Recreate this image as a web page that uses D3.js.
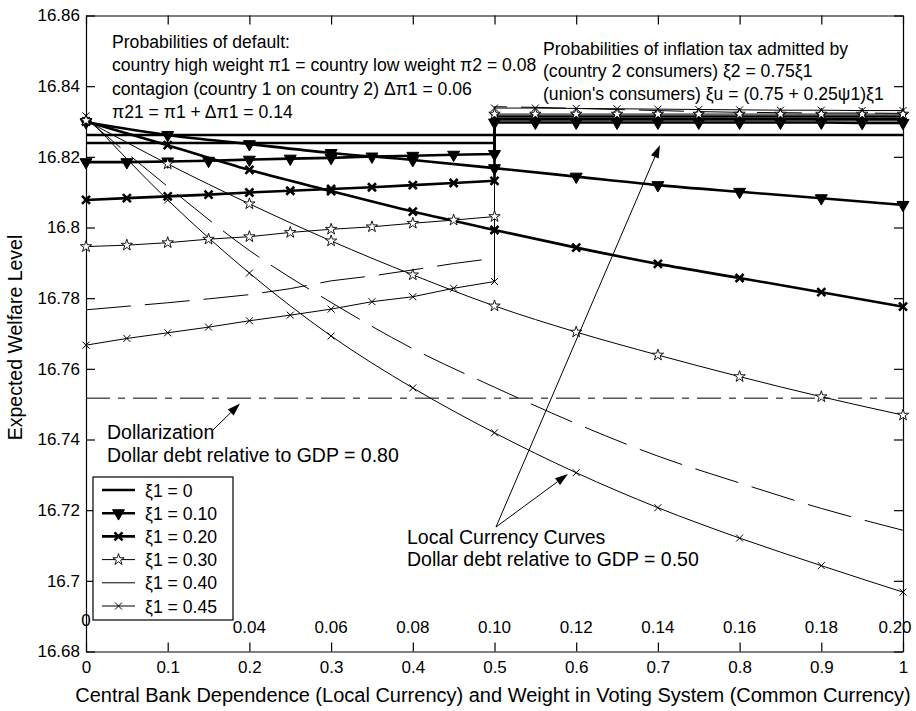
<!DOCTYPE html>
<html>
<head>
<meta charset="utf-8">
<script src="https://cdn.jsdelivr.net/npm/d3@7"></script>
<style>
  body { margin: 0; background: #fff; }
  svg { display: block; font-family: "Liberation Sans", Arial, sans-serif; }
  .axis text { font-size: 17px; fill: #000; }
  .axis path, .axis line { stroke: #000; stroke-width: 1.2; }
</style>
</head>
<body>
<svg id="chart" width="916" height="711"></svg>
<script>
// x grids
const xLocal = [0, 0.1, 0.2, 0.3, 0.4, 0.5, 0.6, 0.7, 0.8, 0.9, 1.0]
const xLeft = [0, 0.05, 0.1, 0.15, 0.2, 0.25, 0.3, 0.35, 0.4, 0.45, 0.5]
const xRight = [0.5, 0.55, 0.6, 0.65, 0.7, 0.75, 0.8, 0.85, 0.9, 0.95, 1.0]

const xiLabels = ["ξ1 = 0", "ξ1 = 0.10", "ξ1 = 0.20", "ξ1 = 0.30", "ξ1 = 0.40", "ξ1 = 0.45"]

// local currency curves (on xLocal)
const localXi0 = [16.8262, 16.8262, 16.8262, 16.8262, 16.8262, 16.8262, 16.8262, 16.8262, 16.8262, 16.8262, 16.8262]
const localXi10 = [16.8298, 16.8262, 16.8236, 16.8211, 16.8191, 16.8168, 16.8144, 16.8120, 16.8101, 16.8083, 16.8064]
const localXi20 = [16.8300, 16.8233, 16.8163, 16.8103, 16.8045, 16.7993, 16.7943, 16.7897, 16.7857, 16.7817, 16.7776]
const localXi30 = [16.8303, 16.8180, 16.8067, 16.7962, 16.7866, 16.7778, 16.7704, 16.7639, 16.7578, 16.7521, 16.7469]
const localXi40 = [16.8308, 16.8116, 16.7935, 16.7788, 16.7657, 16.7548, 16.7445, 16.7353, 16.7277, 16.7205, 16.7143]
const localXi45 = [16.8316, 16.8078, 16.7871, 16.7693, 16.7546, 16.7419, 16.7306, 16.7207, 16.7121, 16.7043, 16.6968]

// common currency curves, low weight part (on xLeft)
const leftXi0 = [16.8239, 16.8239, 16.8239, 16.8239, 16.8239, 16.8239, 16.8239, 16.8239, 16.8239, 16.8239, 16.8239]
const leftXi10 = [16.8185, 16.8185, 16.8187, 16.8189, 16.8192, 16.8195, 16.8197, 16.8201, 16.8203, 16.8206, 16.8208]
const leftXi20 = [16.8078, 16.8083, 16.8088, 16.8093, 16.8099, 16.8104, 16.8109, 16.8114, 16.8120, 16.8126, 16.8132]
const leftXi30 = [16.7946, 16.7950, 16.7957, 16.7967, 16.7974, 16.7986, 16.7995, 16.8002, 16.8012, 16.8021, 16.8031]
const leftXi40 = [16.7767, 16.7777, 16.7787, 16.7798, 16.7810, 16.7827, 16.7849, 16.7863, 16.7880, 16.7898, 16.7913]
const leftXi45 = [16.7667, 16.7686, 16.7702, 16.7718, 16.7736, 16.7752, 16.7769, 16.7790, 16.7804, 16.7828, 16.7847]

// common currency curves, high weight part (on xRight)
const rightXi0 = [16.8306, 16.8306, 16.8306, 16.8306, 16.8306, 16.8306, 16.8306, 16.8306, 16.8306, 16.8306, 16.8306]
const rightXi10 = [16.8297, 16.8297, 16.8297, 16.8297, 16.8297, 16.8297, 16.8297, 16.8297, 16.8297, 16.8296, 16.8296]
const rightXi20 = [16.8314, 16.8314, 16.8314, 16.8314, 16.8314, 16.8314, 16.8314, 16.8314, 16.8314, 16.8314, 16.8314]
const rightXi30 = [16.8321, 16.8321, 16.8321, 16.8321, 16.8321, 16.8321, 16.8321, 16.8321, 16.8321, 16.8321, 16.8321]
const rightXi40 = [16.8342, 16.8340, 16.8337, 16.8334, 16.8331, 16.8328, 16.8326, 16.8325, 16.8324, 16.8324, 16.8323]
const rightXi45 = [16.8338, 16.8338, 16.8337, 16.8336, 16.8335, 16.8334, 16.8333, 16.8332, 16.8332, 16.8331, 16.8331]

const dollarization = 16.7517

const yTicks = [16.68, 16.70, 16.72, 16.74, 16.76, 16.78, 16.80, 16.82, 16.84, 16.86]
const xTicks = [0, 0.1, 0.2, 0.3, 0.4, 0.5, 0.6, 0.7, 0.8, 0.9, 1]
// second labelling of the x axis (probability scale), at these x positions
const xSecondPos = [0, 0.2, 0.3, 0.4, 0.5, 0.6, 0.7, 0.8, 0.9, 1]
const xSecondLabels = ["0", "0.04", "0.06", "0.08", "0.10", "0.12", "0.14", "0.16", "0.18", "0.20"]

// styles per xi1
const styles = [
  { width: 2.6, marker: null, dash: null },
  { width: 2.6, marker: "tri", dash: null },
  { width: 2.6, marker: "xthick", dash: null },
  { width: 1, marker: "star", dash: null },
  { width: 1, marker: null, dash: "45,14" },
  { width: 1, marker: "x", dash: null }
]
const locals = [localXi0, localXi10, localXi20, localXi30, localXi40, localXi45]
const lefts = [leftXi0, leftXi10, leftXi20, leftXi30, leftXi40, leftXi45]
const rights = [rightXi0, rightXi10, rightXi20, rightXi30, rightXi40, rightXi45]

const series = xiLabels.map((label, i) => ({
  label, ...styles[i],
  local: xLocal.map((x, j) => [x, locals[i][j]]),
  common: xLeft.map((x, j) => [x, lefts[i][j]]).concat(xRight.map((x, j) => [x, rights[i][j]]))
}))

const svg = d3.select("#chart")
const plotL = 86, plotR = 903, plotT = 15.5, plotB = 651.5
const x = d3.scaleLinear().domain([0, 1]).range([plotL, plotR])
const y = d3.scaleLinear().domain([16.68, 16.86]).range([plotB, plotT])

const fmt = d => String(+d.toFixed(2))

// ## axes ##
svg.append("g").attr("class", "axis")
  .attr("transform", `translate(${plotL},0)`)
  .call(d3.axisLeft(y).tickValues(yTicks).tickFormat(fmt).tickSizeInner(-9).tickSizeOuter(0).tickPadding(6))
svg.append("g").attr("class", "axis")
  .attr("transform", `translate(${plotR},0)`)
  .call(d3.axisRight(y).tickValues(yTicks).tickFormat("").tickSizeInner(-9).tickSizeOuter(0))
svg.append("g").attr("class", "axis")
  .attr("transform", `translate(0,${plotB})`)
  .call(d3.axisBottom(x).tickValues(xTicks).tickFormat(fmt).tickSizeInner(-9).tickSizeOuter(0).tickPadding(9))
svg.append("g").attr("class", "axis")
  .attr("transform", `translate(0,${plotT})`)
  .call(d3.axisTop(x).tickValues(xTicks).tickFormat("").tickSizeInner(-9).tickSizeOuter(0))

// second x labelling inside the plot
svg.append("g").selectAll("text")
  .data(xSecondPos)
  .enter().append("text")
  .attr("x", (d, i) => i == xSecondPos.length - 1 ? x(d) - 8 : x(d))
  .attr("y", (d, i) => i == 0 ? 626 : 633)
  .attr("text-anchor", "middle")
  .style("font-size", "17px")
  .text((d, i) => xSecondLabels[i])

// axis titles
svg.append("text")
  .attr("x", 493).attr("y", 702)
  .attr("text-anchor", "middle")
  .style("font-size", "20px")
  .text("Central Bank Dependence (Local Currency) and Weight in Voting System (Common Currency)")
svg.append("text")
  .attr("transform", `translate(22,${(plotT + plotB) / 2 + 4}) rotate(-90)`)
  .attr("text-anchor", "middle")
  .style("font-size", "19.5px")
  .text("Expected Welfare Level")

// ## dollarization line ##
svg.append("line")
  .attr("x1", x(0)).attr("x2", x(1))
  .attr("y1", y(dollarization)).attr("y2", y(dollarization))
  .attr("stroke", "#000").attr("stroke-width", 1)
  .attr("stroke-dasharray", "24,8,7,8")

// ## curves ##
const plot = svg.append("g")
const localLine = d3.line().x(d => x(d[0])).y(d => y(d[1])).curve(d3.curveMonotoneX)
const commonLine = d3.line().x(d => x(d[0])).y(d => y(d[1]))

series.forEach(s => {
  plot.append("path")
    .attr("d", commonLine(s.common))
    .attr("fill", "none").attr("stroke", "#000")
    .attr("stroke-width", s.width)
    .attr("stroke-dasharray", s.dash)
  plot.append("path")
    .attr("d", localLine(s.local))
    .attr("fill", "none").attr("stroke", "#000")
    .attr("stroke-width", s.width)
    .attr("stroke-dasharray", s.dash)
})

const drawMarker = (g, type, cx, cy) => {
  if (type == "tri") {
    g.append("path")
      .attr("d", d3.symbol(d3.symbolTriangle, 62)())
      .attr("transform", `translate(${cx},${cy}) rotate(180)`)
      .attr("fill", "#000").attr("stroke", "#000").attr("stroke-width", 1)
  } else if (type == "star") {
    g.append("path")
      .attr("d", d3.symbol(d3.symbolStar, 40)())
      .attr("transform", `translate(${cx},${cy})`)
      .attr("fill", "#fff").attr("stroke", "#000").attr("stroke-width", 0.9)
  } else if (type == "xthick" || type == "x") {
    const r = type == "x" ? 3.5 : 4
    const w = type == "x" ? 1 : 2.6
    g.append("path")
      .attr("d", `M${cx - r},${cy - r}L${cx + r},${cy + r}M${cx - r},${cy + r}L${cx + r},${cy - r}`)
      .attr("stroke", "#000").attr("stroke-width", w)
  }
}

series.forEach(s => {
  if (!s.marker) return
  s.common.concat(s.local).forEach(d => drawMarker(plot, s.marker, x(d[0]), y(d[1])))
})

// ## annotations ##
const addLines = (x0, y0, step, size, lines) => {
  lines.forEach((t, i) => {
    svg.append("text")
      .attr("x", x0).attr("y", y0 + i * step)
      .style("font-size", size)
      .text(t)
  })
}
addLines(112, 48, 23.3, "17.6px", [
  "Probabilities of default:",
  "country high weight π1 = country low weight π2 = 0.08",
  "contagion (country 1 on country 2) Δπ1 = 0.06",
  "π21 = π1 + Δπ1 = 0.14"
])
addLines(543, 54.5, 22.5, "17.6px", [
  "Probabilities of inflation tax admitted by",
  "(country 2 consumers) ξ2 = 0.75ξ1",
  "(union's consumers) ξu = (0.75 + 0.25ψ1)ξ1"
])
addLines(107, 438.5, 23.3, "19.5px", [
  "Dollarization",
  "Dollar debt relative to GDP = 0.80"
])
addLines(407, 544, 22, "19.5px", [
  "Local Currency Curves",
  "Dollar debt relative to GDP = 0.50"
])

const arrow = (x1, y1, x2, y2) => {
  const a = Math.atan2(y2 - y1, x2 - x1)
  const len = 13, hw = 4.2
  const bx = x2 - len * Math.cos(a), by = y2 - len * Math.sin(a)
  svg.append("line")
    .attr("x1", x1).attr("y1", y1).attr("x2", bx).attr("y2", by)
    .attr("stroke", "#000").attr("stroke-width", 1)
  svg.append("path")
    .attr("d", `M${x2},${y2}L${bx + hw * Math.sin(a)},${by - hw * Math.cos(a)}L${bx - hw * Math.sin(a)},${by + hw * Math.cos(a)}Z`)
    .attr("fill", "#000")
}
arrow(213, 430, 240, 403.5)
arrow(496, 527, 660, 145)
arrow(496, 527, 568, 474)

// ## legend ##
const legend = svg.append("g")
legend.append("rect")
  .attr("x", 93).attr("y", 477).attr("width", 140).attr("height", 143)
  .attr("fill", "#fff").attr("stroke", "#000").attr("stroke-width", 1.2)
series.forEach((s, i) => {
  const cy = 490 + i * 23.2
  legend.append("line")
    .attr("x1", 102).attr("x2", 135).attr("y1", cy).attr("y2", cy)
    .attr("stroke", "#000").attr("stroke-width", s.width)
  if (s.marker) drawMarker(legend, s.marker, 118.5, cy)
  legend.append("text")
    .attr("x", 145).attr("y", cy + 6.5)
    .style("font-size", "17.6px")
    .text(s.label)
})
</script>
</body>
</html>
